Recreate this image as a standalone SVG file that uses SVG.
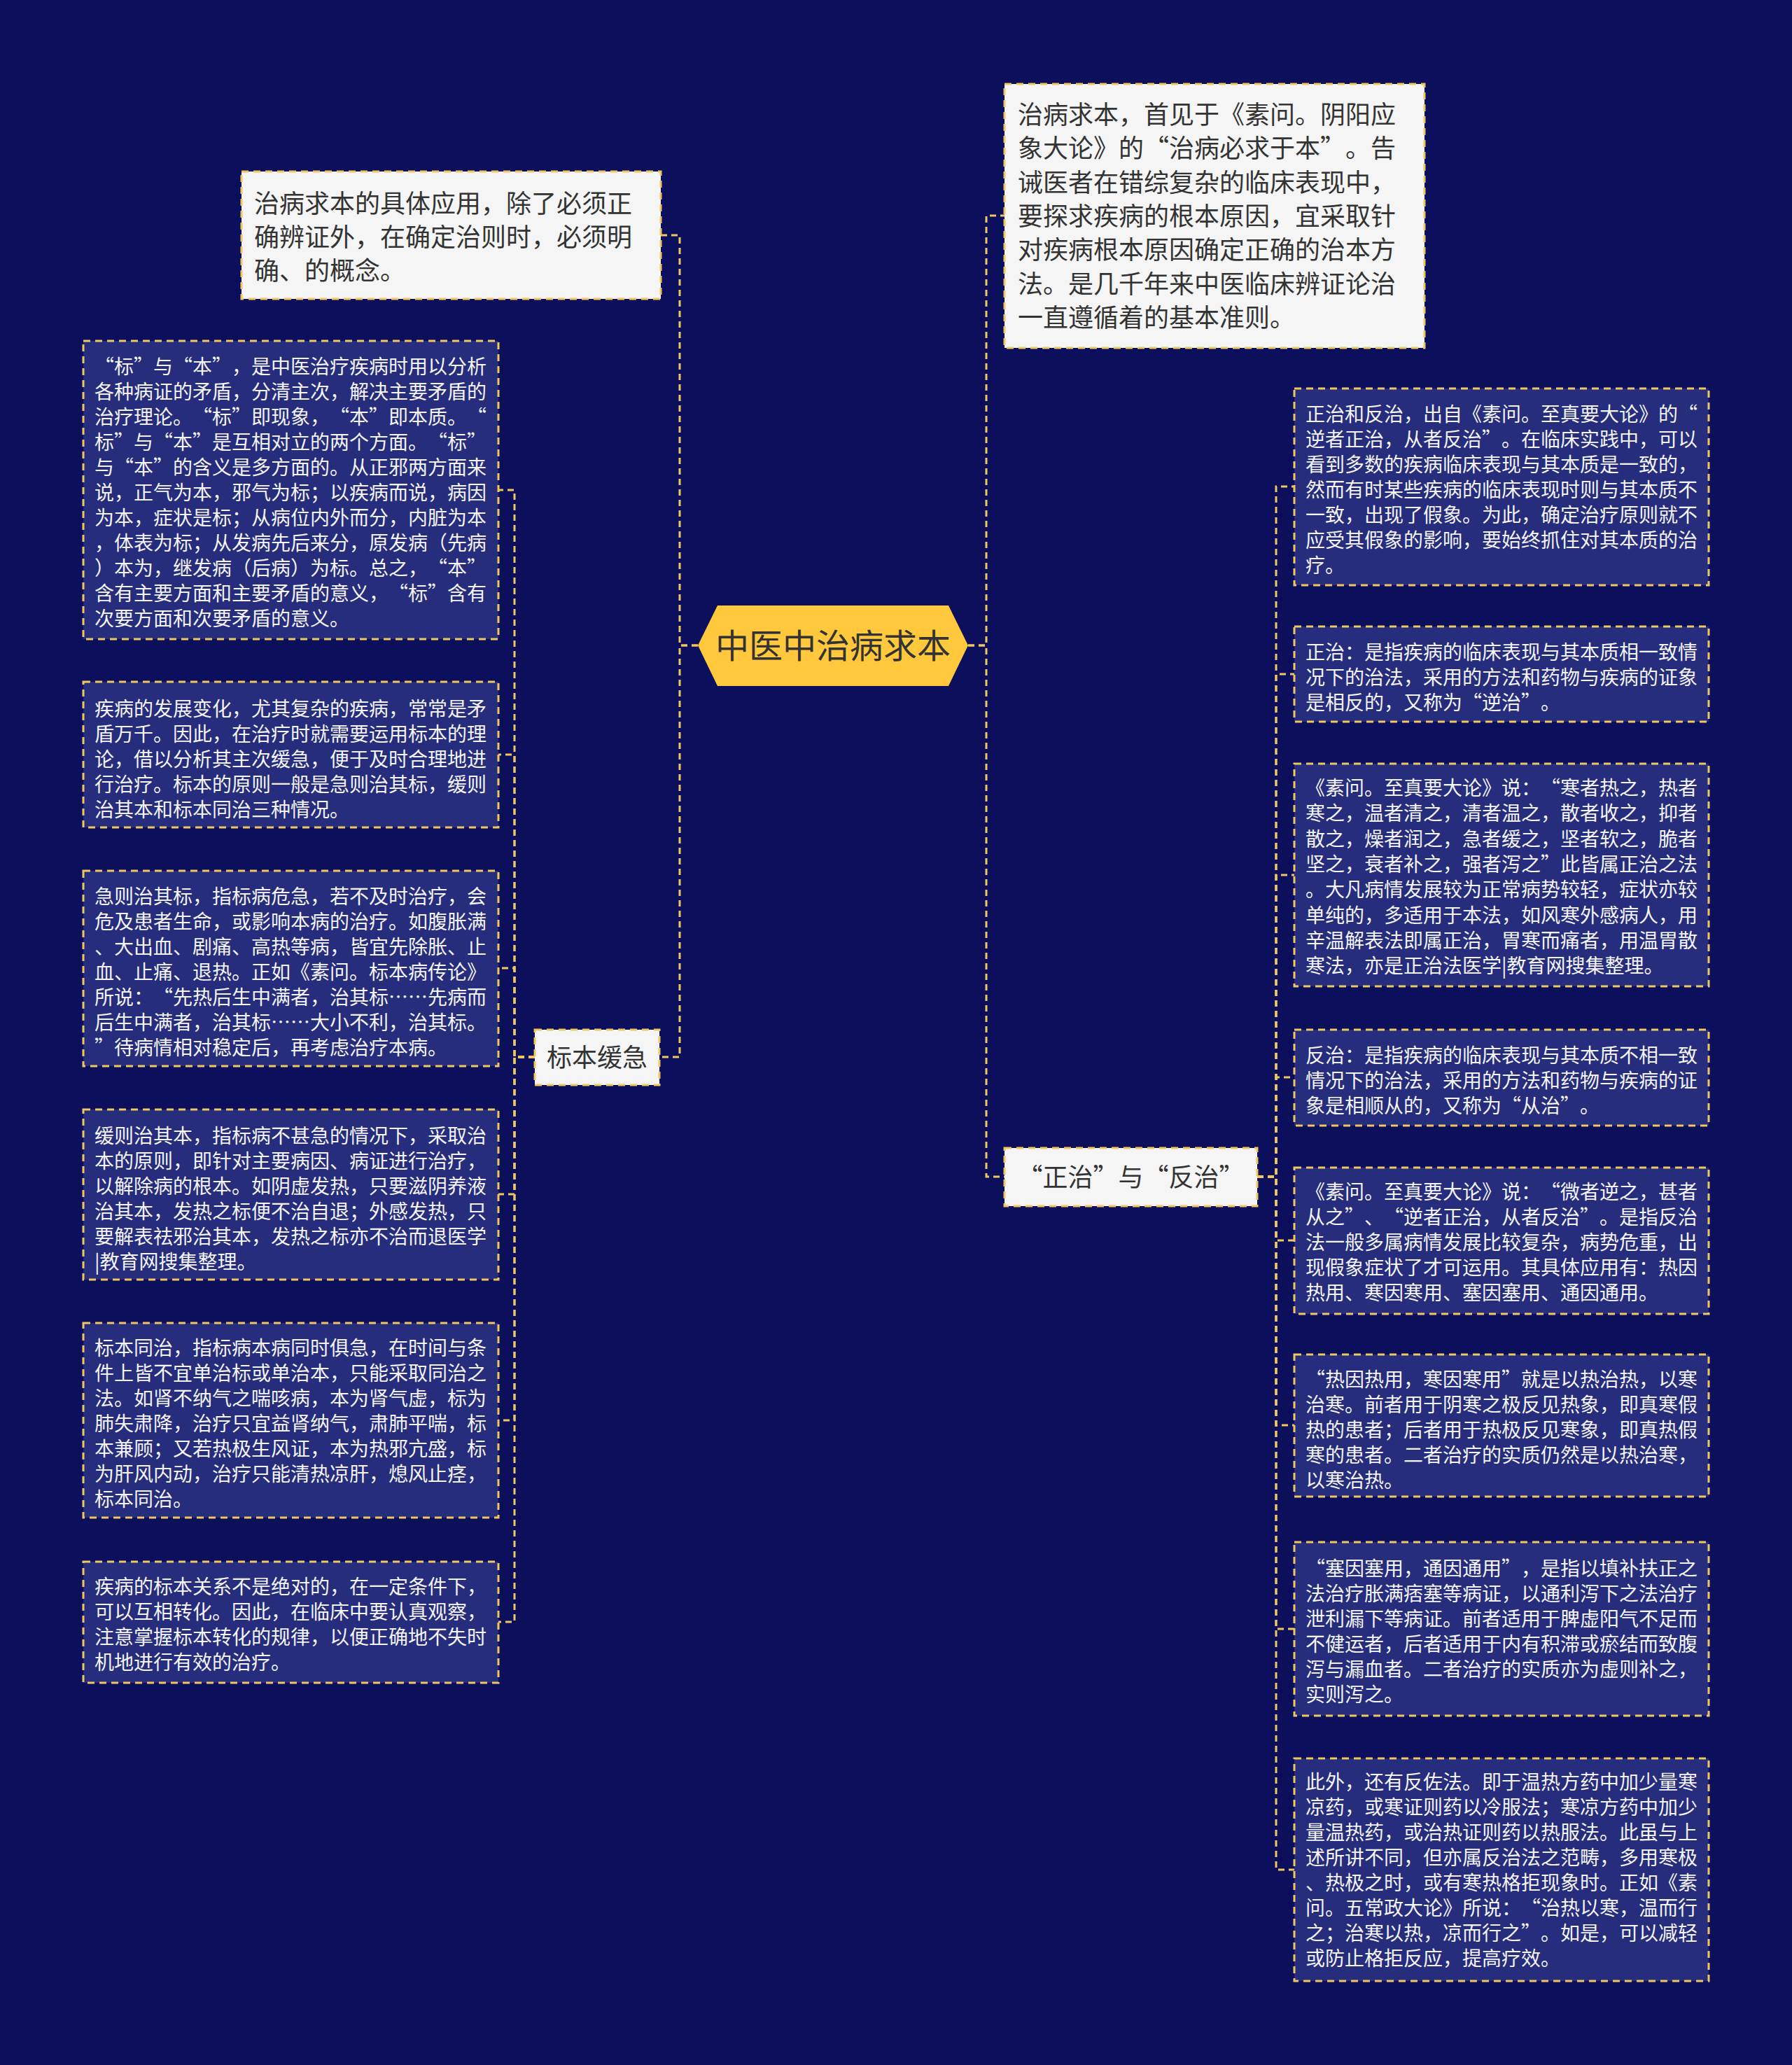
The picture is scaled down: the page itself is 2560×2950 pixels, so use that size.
<svg xmlns="http://www.w3.org/2000/svg" width="2560" height="2950" viewBox="0 0 2560 2950">
<style>
text{font-family:"Noto Sans CJK SC","Noto Sans",sans-serif;text-spacing-trim:space-all;font-kerning:none}
.bg{fill:#0b0f5c}
.light{fill:#f5f5f5;stroke:#f0c75e;stroke-width:3;stroke-dasharray:10 7}
.dark{fill:#262d7c;stroke:#f0c75e;stroke-width:3;stroke-dasharray:10 7}
.lt{fill:#333333;font-size:36px}
.dt{fill:#f4f4f4;font-size:28px}
.ct{fill:#333333;font-size:48px}
.edge{fill:none;stroke:#f0c75e;stroke-width:3;stroke-dasharray:9 6}
</style>
<rect class="bg" x="0" y="0" width="2560" height="2950"/>
<g id="connectors">
<path class="edge" d="M997 922H971V336H944"/>
<path class="edge" d="M997 922H971V1510H942"/>
<path class="edge" d="M1383 922H1409V308H1435"/>
<path class="edge" d="M1383 922H1409V1681H1435"/>
<path class="edge" d="M764 1510H735V700H712"/>
<path class="edge" d="M764 1510H735V1078H712"/>
<path class="edge" d="M764 1510H735V1383H712"/>
<path class="edge" d="M764 1510H735V1706H712"/>
<path class="edge" d="M764 1510H735V2029H712"/>
<path class="edge" d="M764 1510H735V2317H712"/>
<path class="edge" d="M1796 1681H1823V695H1849"/>
<path class="edge" d="M1796 1681H1823V963H1849"/>
<path class="edge" d="M1796 1681H1823V1250H1849"/>
<path class="edge" d="M1796 1681H1823V1539H1849"/>
<path class="edge" d="M1796 1681H1823V1772H1849"/>
<path class="edge" d="M1796 1681H1823V2036H1849"/>
<path class="edge" d="M1796 1681H1823V2327H1849"/>
<path class="edge" d="M1796 1681H1823V2671H1849"/>
</g>
<g id="root">
<polygon points="997,922 1025,865 1355,865 1383,922 1355,980 1025,980" fill="#ffc83d"/>
<text class="ct" x="1190" y="940" text-anchor="middle">中医中治病求本</text>
</g>
<g id="n-apply">
<rect class="light" x="345" y="245" width="599" height="182"/>
<text class="lt" x="363" y="304"><tspan x="363">治病求本的具体应用，除了必须正</tspan><tspan x="363" dy="48">确辨证外，在确定治则时，必须明</tspan><tspan x="363" dy="48">确、的概念。</tspan></text>
</g>
<g id="n-origin">
<rect class="light" x="1435" y="120" width="600" height="377"/>
<text class="lt" x="1454" y="177"><tspan x="1454">治病求本，首见于《素问。阴阳应</tspan><tspan x="1454" dy="48.3">象大论》的“治病必求于本”。告</tspan><tspan x="1454" dy="48.3">诫医者在错综复杂的临床表现中，</tspan><tspan x="1454" dy="48.3">要探求疾病的根本原因，宜采取针</tspan><tspan x="1454" dy="48.3">对疾病根本原因确定正确的治本方</tspan><tspan x="1454" dy="48.3">法。是几千年来中医临床辨证论治</tspan><tspan x="1454" dy="48.3">一直遵循着的基本准则。</tspan></text>
</g>
<g id="n-biaoben">
<rect class="light" x="764" y="1471" width="178" height="79"/>
<text class="lt" x="853" y="1524" text-anchor="middle">标本缓急</text>
</g>
<g id="n-zhengfan">
<rect class="light" x="1435" y="1640" width="361" height="83"/>
<text class="lt" x="1615.5" y="1695" text-anchor="middle">“正治”与“反治”</text>
</g>
<g id="l1">
<rect class="dark" x="119" y="487" width="593" height="426"/>
<text class="dt" x="135" y="534"><tspan x="135">“标”与“本”，是中医治疗疾病时用以分析</tspan><tspan x="135" dy="36">各种病证的矛盾，分清主次，解决主要矛盾的</tspan><tspan x="135" dy="36">治疗理论。“标”即现象，“本”即本质。“</tspan><tspan x="135" dy="36">标”与“本”是互相对立的两个方面。“标”</tspan><tspan x="135" dy="36">与“本”的含义是多方面的。从正邪两方面来</tspan><tspan x="135" dy="36">说，正气为本，邪气为标；以疾病而说，病因</tspan><tspan x="135" dy="36">为本，症状是标；从病位内外而分，内脏为本</tspan><tspan x="135" dy="36">，体表为标；从发病先后来分，原发病（先病</tspan><tspan x="135" dy="36">）本为，继发病（后病）为标。总之，“本”</tspan><tspan x="135" dy="36">含有主要方面和主要矛盾的意义，“标”含有</tspan><tspan x="135" dy="36">次要方面和次要矛盾的意义。</tspan></text>
</g>
<g id="l2">
<rect class="dark" x="119" y="974" width="593" height="208"/>
<text class="dt" x="135" y="1023"><tspan x="135">疾病的发展变化，尤其复杂的疾病，常常是矛</tspan><tspan x="135" dy="36">盾万千。因此，在治疗时就需要运用标本的理</tspan><tspan x="135" dy="36">论，借以分析其主次缓急，便于及时合理地进</tspan><tspan x="135" dy="36">行治疗。标本的原则一般是急则治其标，缓则</tspan><tspan x="135" dy="36">治其本和标本同治三种情况。</tspan></text>
</g>
<g id="l3">
<rect class="dark" x="119" y="1244" width="593" height="279"/>
<text class="dt" x="135" y="1291"><tspan x="135">急则治其标，指标病危急，若不及时治疗，会</tspan><tspan x="135" dy="36">危及患者生命，或影响本病的治疗。如腹胀满</tspan><tspan x="135" dy="36">、大出血、剧痛、高热等病，皆宜先除胀、止</tspan><tspan x="135" dy="36">血、止痛、退热。正如《素问。标本病传论》</tspan><tspan x="135" dy="36">所说：“先热后生中满者，治其标……先病而</tspan><tspan x="135" dy="36">后生中满者，治其标……大小不利，治其标。</tspan><tspan x="135" dy="36">”待病情相对稳定后，再考虑治疗本病。</tspan></text>
</g>
<g id="l4">
<rect class="dark" x="119" y="1585" width="593" height="243"/>
<text class="dt" x="135" y="1633"><tspan x="135">缓则治其本，指标病不甚急的情况下，采取治</tspan><tspan x="135" dy="36">本的原则，即针对主要病因、病证进行治疗，</tspan><tspan x="135" dy="36">以解除病的根本。如阴虚发热，只要滋阴养液</tspan><tspan x="135" dy="36">治其本，发热之标便不治自退；外感发热，只</tspan><tspan x="135" dy="36">要解表祛邪治其本，发热之标亦不治而退医学</tspan><tspan x="135" dy="36">|教育网搜集整理。</tspan></text>
</g>
<g id="l5">
<rect class="dark" x="119" y="1890" width="593" height="278"/>
<text class="dt" x="135" y="1936"><tspan x="135">标本同治，指标病本病同时俱急，在时间与条</tspan><tspan x="135" dy="36">件上皆不宜单治标或单治本，只能采取同治之</tspan><tspan x="135" dy="36">法。如肾不纳气之喘咳病，本为肾气虚，标为</tspan><tspan x="135" dy="36">肺失肃降，治疗只宜益肾纳气，肃肺平喘，标</tspan><tspan x="135" dy="36">本兼顾；又若热极生风证，本为热邪亢盛，标</tspan><tspan x="135" dy="36">为肝风内动，治疗只能清热凉肝，熄风止痉，</tspan><tspan x="135" dy="36">标本同治。</tspan></text>
</g>
<g id="l6">
<rect class="dark" x="119" y="2231" width="593" height="173"/>
<text class="dt" x="135" y="2277"><tspan x="135">疾病的标本关系不是绝对的，在一定条件下，</tspan><tspan x="135" dy="36">可以互相转化。因此，在临床中要认真观察，</tspan><tspan x="135" dy="36">注意掌握标本转化的规律，以便正确地不失时</tspan><tspan x="135" dy="36">机地进行有效的治疗。</tspan></text>
</g>
<g id="r1">
<rect class="dark" x="1849" y="555" width="592" height="281"/>
<text class="dt" x="1865" y="602"><tspan x="1865">正治和反治，出自《素问。至真要大论》的“</tspan><tspan x="1865" dy="36">逆者正治，从者反治”。在临床实践中，可以</tspan><tspan x="1865" dy="36">看到多数的疾病临床表现与其本质是一致的，</tspan><tspan x="1865" dy="36">然而有时某些疾病的临床表现时则与其本质不</tspan><tspan x="1865" dy="36">一致，出现了假象。为此，确定治疗原则就不</tspan><tspan x="1865" dy="36">应受其假象的影响，要始终抓住对其本质的治</tspan><tspan x="1865" dy="36">疗。</tspan></text>
</g>
<g id="r2">
<rect class="dark" x="1849" y="895" width="592" height="136"/>
<text class="dt" x="1865" y="942"><tspan x="1865">正治：是指疾病的临床表现与其本质相一致情</tspan><tspan x="1865" dy="36">况下的治法，采用的方法和药物与疾病的证象</tspan><tspan x="1865" dy="36">是相反的，又称为“逆治”。</tspan></text>
</g>
<g id="r3">
<rect class="dark" x="1849" y="1091" width="592" height="318"/>
<text class="dt" x="1865" y="1136"><tspan x="1865">《素问。至真要大论》说：“寒者热之，热者</tspan><tspan x="1865" dy="36.3">寒之，温者清之，清者温之，散者收之，抑者</tspan><tspan x="1865" dy="36.3">散之，燥者润之，急者缓之，坚者软之，脆者</tspan><tspan x="1865" dy="36.3">坚之，衰者补之，强者泻之”此皆属正治之法</tspan><tspan x="1865" dy="36.3">。大凡病情发展较为正常病势较轻，症状亦较</tspan><tspan x="1865" dy="36.3">单纯的，多适用于本法，如风寒外感病人，用</tspan><tspan x="1865" dy="36.3">辛温解表法即属正治，胃寒而痛者，用温胃散</tspan><tspan x="1865" dy="36.3">寒法，亦是正治法医学|教育网搜集整理。</tspan></text>
</g>
<g id="r4">
<rect class="dark" x="1849" y="1471" width="592" height="137"/>
<text class="dt" x="1865" y="1518"><tspan x="1865">反治：是指疾病的临床表现与其本质不相一致</tspan><tspan x="1865" dy="36">情况下的治法，采用的方法和药物与疾病的证</tspan><tspan x="1865" dy="36">象是相顺从的，又称为“从治”。</tspan></text>
</g>
<g id="r5">
<rect class="dark" x="1849" y="1668" width="592" height="209"/>
<text class="dt" x="1865" y="1713"><tspan x="1865">《素问。至真要大论》说：“微者逆之，甚者</tspan><tspan x="1865" dy="36">从之”、“逆者正治，从者反治”。是指反治</tspan><tspan x="1865" dy="36">法一般多属病情发展比较复杂，病势危重，出</tspan><tspan x="1865" dy="36">现假象症状了才可运用。其具体应用有：热因</tspan><tspan x="1865" dy="36">热用、寒因寒用、塞因塞用、通因通用。</tspan></text>
</g>
<g id="r6">
<rect class="dark" x="1849" y="1935" width="592" height="203"/>
<text class="dt" x="1865" y="1981"><tspan x="1865">“热因热用，寒因寒用”就是以热治热，以寒</tspan><tspan x="1865" dy="36">治寒。前者用于阴寒之极反见热象，即真寒假</tspan><tspan x="1865" dy="36">热的患者；后者用于热极反见寒象，即真热假</tspan><tspan x="1865" dy="36">寒的患者。二者治疗的实质仍然是以热治寒，</tspan><tspan x="1865" dy="36">以寒治热。</tspan></text>
</g>
<g id="r7">
<rect class="dark" x="1849" y="2203" width="592" height="248"/>
<text class="dt" x="1865" y="2251"><tspan x="1865">“塞因塞用，通因通用”，是指以填补扶正之</tspan><tspan x="1865" dy="36">法治疗胀满痞塞等病证，以通利泻下之法治疗</tspan><tspan x="1865" dy="36">泄利漏下等病证。前者适用于脾虚阳气不足而</tspan><tspan x="1865" dy="36">不健运者，后者适用于内有积滞或瘀结而致腹</tspan><tspan x="1865" dy="36">泻与漏血者。二者治疗的实质亦为虚则补之，</tspan><tspan x="1865" dy="36">实则泻之。</tspan></text>
</g>
<g id="r8">
<rect class="dark" x="1849" y="2512" width="592" height="318"/>
<text class="dt" x="1865" y="2556"><tspan x="1865">此外，还有反佐法。即于温热方药中加少量寒</tspan><tspan x="1865" dy="36">凉药，或寒证则药以冷服法；寒凉方药中加少</tspan><tspan x="1865" dy="36">量温热药，或治热证则药以热服法。此虽与上</tspan><tspan x="1865" dy="36">述所讲不同，但亦属反治法之范畴，多用寒极</tspan><tspan x="1865" dy="36">、热极之时，或有寒热格拒现象时。正如《素</tspan><tspan x="1865" dy="36">问。五常政大论》所说：“治热以寒，温而行</tspan><tspan x="1865" dy="36">之；治寒以热，凉而行之”。如是，可以减轻</tspan><tspan x="1865" dy="36">或防止格拒反应，提高疗效。</tspan></text>
</g>
</svg>
